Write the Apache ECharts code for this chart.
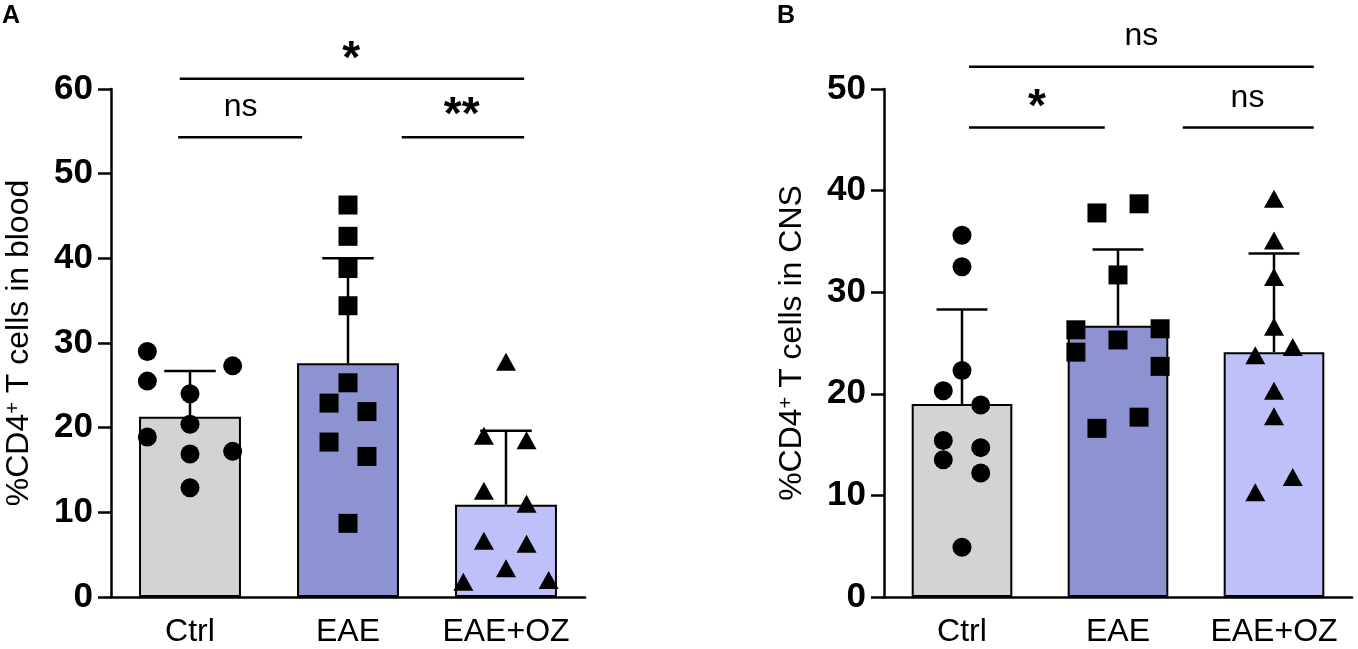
<!DOCTYPE html>
<html>
<head>
<meta charset="utf-8">
<script src="https://cdn.jsdelivr.net/npm/echarts@6/dist/echarts.min.js"></script>
<style>
html, body { margin: 0; padding: 0; background: #fff; }
#chart { width: 1358px; height: 649px; }
</style>
</head>
<body>
<div id="chart"></div>
<script>
var groups = ['Ctrl', 'EAE', 'EAE+OZ'];
var barColors = ['#d3d3d3', '#8c93d0', '#bfbffa'];
var symbols = ['circle', 'rect', 'triangle'];

// A: blood
var bloodMean = [21.3, 27.6, 10.9];
var bloodTop = [26.7, 40.0, 19.65];
var bloodCtrl = [29.0, 25.5, 18.9, 24.0, 20.4, 16.9, 12.9, 27.3, 17.2];
var bloodCtrlX = [-0.27, -0.27, -0.27, 0, 0, 0, 0, 0.27, 0.27];
var bloodEAE = [46.3, 42.6, 38.8, 34.4, 25.3, 22.9, 21.9, 18.3, 16.6, 8.7];
var bloodEAEX = [0, 0, 0, 0, 0, -0.12, 0.12, -0.12, 0.12, 0];
var bloodOZ = [27.8, 19.05, 18.5, 12.55, 11.0, 6.65, 6.3, 3.4, 1.8, 2.0];
var bloodOZX = [0, -0.14, 0.13, -0.14, 0.13, -0.14, 0.13, 0, -0.27, 0.27];
// brackets: [from, to, y, textX, textY]
var bloodBrackets = [[-0.065, 2.115, 61.2, 1.02, 64.6], [-0.075, 0.71, 54.3, 0.32, 57.9], [1.34, 2.115, 54.3, 1.72, 57.9]];
var bloodSig = ['*', 'ns', '**'];

// B: CNS
var cnsMean = [19.0, 26.7, 24.1];
var cnsTop = [28.3, 34.2, 33.8];
var cnsCtrl = [35.6, 32.5, 22.3, 20.3, 18.9, 15.4, 13.5, 14.7, 12.2, 4.9];
var cnsCtrlX = [0, 0, 0, -0.12, 0.12, -0.12, -0.12, 0.12, 0.12, 0];
var cnsEAE = [37.8, 38.7, 31.7, 26.3, 26.4, 24.1, 25.3, 22.7, 16.6, 17.7];
var cnsEAEX = [-0.135, 0.135, 0, -0.27, 0.27, -0.27, 0, 0.27, -0.135, 0.135];
var cnsOZ = [39.2, 35.1, 31.5, 26.6, 23.8, 24.6, 20.3, 17.8, 10.3, 11.8];
var cnsOZX = [0, 0, 0, 0, -0.12, 0.12, 0, 0, -0.12, 0.12];
var cnsBrackets = [[0.045, 2.255, 52.2, 1.15, 55.2], [0.045, 0.915, 46.2, 0.48, 49.1], [1.415, 2.255, 46.2, 1.83, 49.1]];
var cnsSig = ['ns', '*', 'ns'];

var FONT = 'Liberation Sans, Arial, sans-serif';

function pairs(xs, ys, g) {
    return ys.map(function (v, i) { return [g + xs[i], v]; });
}

function errorItem(params, api) {
    var i = api.value(0);
    var base = api.coord([i, api.value(1)]);
    var top = api.coord([i, api.value(2)]);
    var left = api.coord([i - 0.163, api.value(2)]);
    var right = api.coord([i + 0.163, api.value(2)]);
    var style = { stroke: '#000', lineWidth: 2.5 };
    return {
        type: 'group',
        children: [
            { type: 'line', shape: { x1: base[0], y1: base[1], x2: top[0], y2: top[1] }, style: style },
            { type: 'line', shape: { x1: left[0], y1: top[1], x2: right[0], y2: top[1] }, style: style }
        ]
    };
}

function bracketRenderer(texts) {
    return function (params, api) {
        var a = api.coord([api.value(0), api.value(2)]);
        var b = api.coord([api.value(1), api.value(2)]);
        var t = api.coord([api.value(3), api.value(4)]);
        var txt = texts[params.dataIndex];
        var star = txt.indexOf('*') >= 0;
        return {
            type: 'group',
            children: [
                { type: 'line', shape: { x1: a[0], y1: a[1], x2: b[0], y2: b[1] }, style: { stroke: '#000', lineWidth: 2.5 } },
                {
                    type: 'text',
                    x: t[0],
                    y: star ? t[1] + 10 : t[1],
                    style: {
                        text: txt,
                        fill: '#000',
                        font: (star ? 'bold 46px ' : '32px ') + FONT,
                        align: 'center',
                        verticalAlign: 'middle'
                    }
                }
            ]
        };
    };
}

function panelSeries(k, means, tops, pts, brackets, sig) {
    var catX = k * 2, valX = k * 2 + 1;
    var list = [{
        type: 'bar',
        xAxisIndex: catX,
        yAxisIndex: k,
        barWidth: '64.5%',
        z: 2,
        data: means.map(function (v, i) {
            return { value: v, itemStyle: { color: barColors[i], borderColor: '#000', borderWidth: 2 } };
        })
    }, {
        type: 'custom',
        xAxisIndex: valX,
        yAxisIndex: k,
        z: 3,
        renderItem: errorItem,
        data: means.map(function (v, i) { return [i, v, tops[i]]; })
    }];
    pts.forEach(function (p, g) {
        list.push({
            type: 'scatter',
            xAxisIndex: valX,
            yAxisIndex: k,
            symbol: symbols[g],
            symbolSize: g === 2 ? [20, 18] : 19,
            itemStyle: { color: '#000', opacity: 1 },
            z: 4,
            data: p
        });
    });
    list.push({
        type: 'custom',
        xAxisIndex: valX,
        yAxisIndex: k,
        clip: false,
        z: 5,
        renderItem: bracketRenderer(sig),
        data: brackets
    });
    return list;
}

function catAxis(k) {
    return {
        type: 'category',
        gridIndex: k,
        data: groups,
        axisLine: { onZero: false, lineStyle: { color: '#000', width: 2.5 } },
        axisTick: { alignWithLabel: true, length: 12, lineStyle: { color: '#000', width: 2.5 } },
        axisLabel: { interval: 0, color: '#000', fontSize: 32, fontFamily: FONT, margin: 19 },
        splitLine: { show: false }
    };
}

function valAxis(k) {
    return { type: 'value', gridIndex: k, show: false, min: -0.5, max: 2.5 };
}

function yAxis(k, max, name) {
    return {
        type: 'value',
        gridIndex: k,
        min: 0,
        max: max,
        interval: 10,
        name: name,
        nameLocation: 'middle',
        nameRotate: 90,
        nameGap: 76,
        nameTextStyle: {
            color: '#000', fontSize: 32, fontFamily: FONT,
            rich: { sup: { fontSize: 20, verticalAlign: 'top', fontFamily: FONT, color: '#000' } }
        },
        axisLine: { show: true, onZero: false, lineStyle: { color: '#000', width: 2.5 } },
        axisTick: { show: true, length: 13, lineStyle: { color: '#000', width: 2.5 } },
        axisLabel: { color: '#000', fontSize: 35, fontWeight: 'bold', fontFamily: FONT, margin: 18 },
        splitLine: { show: false }
    };
}

var chart = echarts.init(document.getElementById('chart'));
chart.setOption({
    animation: false,
    backgroundColor: '#fff',
    title: [
        { text: 'A', left: 2, top: 4, padding: 0, textStyle: { fontSize: 25, fontWeight: 'bold', fontFamily: FONT, color: '#000' } },
        { text: 'B', left: 777, top: 4, padding: 0, textStyle: { fontSize: 25, fontWeight: 'bold', fontFamily: FONT, color: '#000' } }
    ],
    grid: [
        { left: 111, top: 89, width: 474, height: 508, containLabel: false, outerBoundsMode: 'none' },
        { left: 884, top: 89, width: 468, height: 508, containLabel: false, outerBoundsMode: 'none' }
    ],
    xAxis: [catAxis(0), valAxis(0), catAxis(1), valAxis(1)],
    yAxis: [
        yAxis(0, 60, '%CD4{sup|+} T cells in blood'),
        yAxis(1, 50, '%CD4{sup|+} T cells in CNS')
    ],
    series: [].concat(
        panelSeries(0, bloodMean, bloodTop,
            [pairs(bloodCtrlX, bloodCtrl, 0), pairs(bloodEAEX, bloodEAE, 1), pairs(bloodOZX, bloodOZ, 2)],
            bloodBrackets, bloodSig),
        panelSeries(1, cnsMean, cnsTop,
            [pairs(cnsCtrlX, cnsCtrl, 0), pairs(cnsEAEX, cnsEAE, 1), pairs(cnsOZX, cnsOZ, 2)],
            cnsBrackets, cnsSig)
    )
});
</script>
</body>
</html>
